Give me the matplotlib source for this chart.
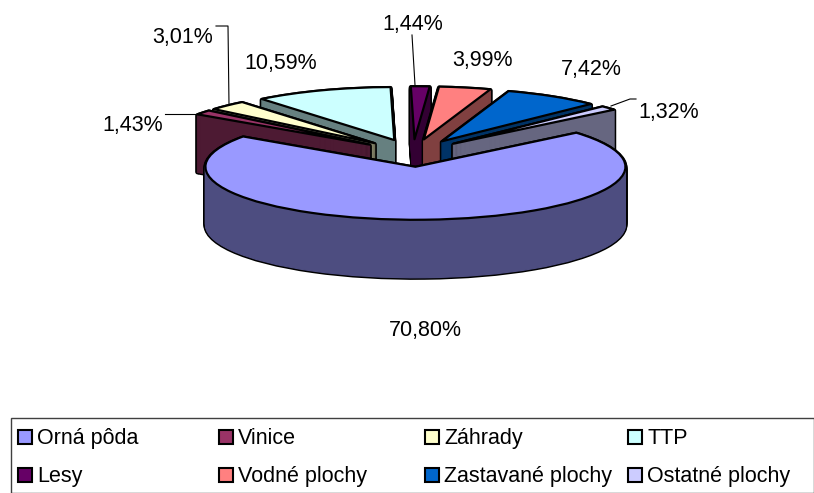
import numpy as np
import matplotlib
matplotlib.use("Agg")
import matplotlib.pyplot as plt
from matplotlib.patches import Rectangle

plt.rcParams['font.family'] = ['Liberation Sans', 'DejaVu Sans']

categories = ["Orná pôda", "Vinice", "Záhrady", "TTP", "Lesy", "Vodné plochy",
              "Zastavané plochy", "Ostatné plochy"]
values = [70.80, 1.43, 3.01, 10.59, 1.44, 3.99, 7.42, 1.32]
value_labels = ["70,80%", "1,43%", "3,01%", "10,59%", "1,44%", "3,99%", "7,42%", "1,32%"]
colors = ["#9999FF", "#993366", "#FFFFCC", "#CCFFFF", "#660066", "#FF8080", "#0066CC", "#CCCCFF"]
wall_colors = ["#4D4D80", "#4D1A33", "#808066", "#668080", "#330033", "#804040", "#003366", "#666680"]

# pixel layout of the pie
cx, cy = 413, 153
rx, ry = 210, 53
depth = 58
explode_frac = 0.26
start_angle = 40

label_pos = [(425, 329), (133, 124), (183, 36), (281, 62), (413, 23), (482, 59), (591, 68), (669, 111)]
leaders = [[(165, 114), (200, 114)],
           [(216, 26), (228, 26), (229, 105)],
           [(412, 35), (415, 85)],
           [(611, 106), (630, 99), (636, 99)]]

fig = plt.figure(figsize=(8.14, 4.93), dpi=100)
ax = fig.add_axes([0, 0, 1, 1])

# mid angle of every slice decides who is painted in front
fractions = np.array(values) / sum(values)
ends = start_angle - 360 * np.cumsum(fractions)
mids = ends + 180 * fractions
order = np.argsort(-np.sin(np.radians(mids)))
base_z = {s: 10 + 10 * rank for rank, s in enumerate(order)}
explode = [explode_frac] * len(values)

# side walls are stacks of pies going down, one pixel per layer
for k in range(depth, 0, -1):
    yc = -k / ry
    outline = ax.pie(values, center=(0, yc), explode=explode, startangle=start_angle,
                     counterclock=False, colors=["black"] * len(values),
                     wedgeprops=dict(edgecolor="black", linewidth=3.0, joinstyle="round"))[0]
    wall = ax.pie(values, center=(0, yc), explode=explode, startangle=start_angle,
                  counterclock=False, colors=wall_colors,
                  wedgeprops=dict(linewidth=0.9, joinstyle="round"))[0]
    for i in range(len(values)):
        outline[i].set_zorder(base_z[i])
        wall[i].set_edgecolor(wall_colors[i])
        wall[i].set_zorder(base_z[i] + 1)

top = ax.pie(values, center=(0, 0), explode=explode, startangle=start_angle,
             counterclock=False, colors=colors,
             wedgeprops=dict(edgecolor="black", linewidth=1.6, joinstyle="round"))[0]
for i in range(len(values)):
    top[i].set_zorder(base_z[i] + 2)

ax.set_aspect('auto')
ax.set_xlim(-cx / rx, (814 - cx) / rx)
ax.set_ylim((cy - 493) / ry, cy / ry)
ax.axis('off')

# overlay in pixel coordinates for labels and legend
ov = fig.add_axes([0, 0, 1, 1], facecolor="none")
ov.set_xlim(0, 814)
ov.set_ylim(493, 0)
ov.axis('off')

for text, (x, y) in zip(value_labels, label_pos):
    ov.text(x, y + 7, text, ha='center', va='baseline', fontsize=15.5, color="black")
for line in leaders:
    xs, ys = zip(*line)
    ov.plot(xs, ys, color="black", lw=0.8)

ov.add_patch(Rectangle((11, 418), 803, 75, facecolor="white", edgecolor="#404040", lw=1.0))
col_x = [18, 219, 425, 628]
row_y = [437, 475]
for i, name in enumerate(categories):
    x = col_x[i % 4]
    y = row_y[i // 4]
    ov.add_patch(Rectangle((x, y - 7), 14, 14, facecolor=colors[i], edgecolor="black", lw=1.5))
    ov.text(x + 19, y + 7, name, ha='left', va='baseline', fontsize=15.5, color="black")

fig.savefig("out.png", dpi=100)
